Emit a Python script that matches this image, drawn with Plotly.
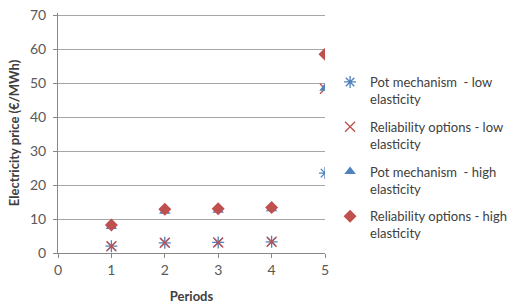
import plotly.graph_objects as go

periods = [1, 2, 3, 4, 5]
pot_low = [2.0, 3.0, 3.1, 3.3, 23.5]
ro_low = [2.0, 3.0, 3.1, 3.3, 48.3]
pot_high = [7.8, 12.3, 12.6, 13.0, 48.5]
ro_high = [8.2, 12.9, 13.0, 13.4, 58.5]
y_ticks = [0, 10, 20, 30, 40, 50, 60, 70]
x_ticks = [0, 1, 2, 3, 4, 5]

names = ["Pot mechanism  - low<br>elasticity",
         "Reliability options - low<br>elasticity",
         "Pot mechanism  - high<br>elasticity",
         "Reliability options - high<br>elasticity"]

blue = "#4F81BD"
red = "#C0504D"
font = "Lato, 'Open Sans', sans-serif"

fig = go.Figure()
fig.add_trace(go.Scatter(x=periods, y=pot_low, mode="markers", name=names[0], legendgroup="a",
                         marker=dict(symbol="asterisk-open", size=10, color=blue,
                                     line=dict(width=1.3, color=blue))))
fig.add_trace(go.Scatter(x=periods, y=ro_low, mode="markers", name=names[1], legendgroup="b",
                         marker=dict(symbol="x-thin-open", size=10, color=red,
                                     line=dict(width=1.3, color=red))))
fig.add_trace(go.Scatter(x=periods, y=pot_high, mode="markers", name=names[2], legendgroup="c",
                         marker=dict(symbol="triangle-up", size=10, color=blue)))
fig.add_trace(go.Scatter(x=periods, y=ro_high, mode="markers", name=names[3], legendgroup="d",
                         marker=dict(symbol="diamond", size=10, color=red)))

fig.update_layout(
    width=515, height=307,
    margin=dict(l=58, r=190, t=13, b=54, autoexpand=False),
    paper_bgcolor="white", plot_bgcolor="white",
    font=dict(family=font, color="#404040", size=13),
    showlegend=True,
    legend=dict(x=1.019, y=0.775, xanchor="left", yanchor="top",
                font=dict(size=13, color="#404040"),
                tracegroupgap=8, itemwidth=30, valign="top",
                bgcolor="rgba(0,0,0,0)"),
    xaxis=dict(range=[0, 5], tickvals=x_ticks, showgrid=False,
               showline=True, linecolor="#888888", linewidth=1,
               ticks="outside", ticklen=4, tickcolor="#888888", automargin=False,
               ticklabeloverflow="allow",
               tickfont=dict(size=14, color="#595959"), zeroline=False,
               title=dict(text="<b>Periods</b>", font=dict(size=13, color="#404040"), standoff=15)),
    yaxis=dict(range=[0, 70.6], tickvals=y_ticks,
               showgrid=True, gridcolor="#A6A6A6", gridwidth=1,
               showline=True, linecolor="#888888", linewidth=1,
               ticks="outside", ticklen=4, tickcolor="#888888", automargin=False,
               ticklabelstandoff=4, ticklabeloverflow="allow",
               tickfont=dict(size=14, color="#595959"), zeroline=False,
               title=dict(text="<b>Electricity price (€/MWh)</b>", font=dict(size=13, color="#404040"), standoff=7)),
)

fig.write_html("out.html", config={"displayModeBar": False},
               post_script="document.body.style.margin='0';document.body.style.overflow='hidden';")
